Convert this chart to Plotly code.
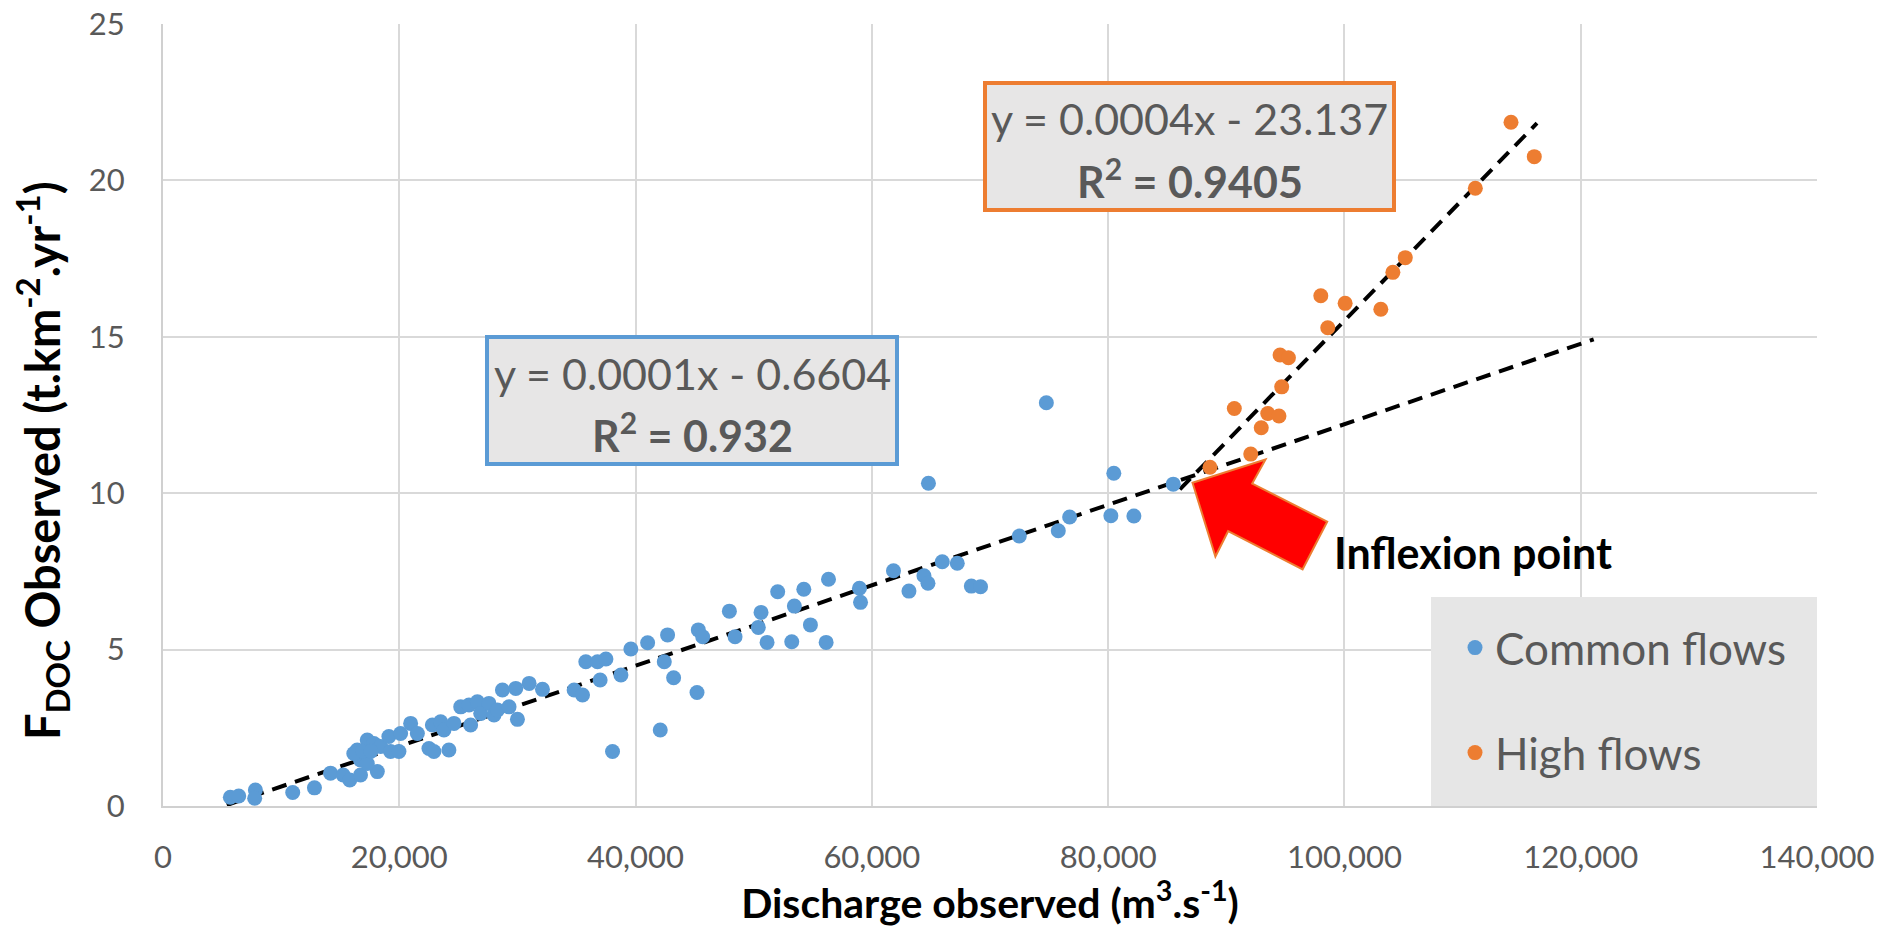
import plotly.graph_objects as go

# ---------------- data ----------------
common_x = [5700, 6410, 7820, 7760, 10980, 12820, 14180, 15250, 15810, 16720,
            16440, 17290, 18140, 17850, 18420, 19120, 19260, 19970, 16720, 17290,
            16150, 16900, 17600, 20110, 20960, 21530, 22510, 22930, 24200, 22800,
            23500, 23780, 24630, 25200, 25900, 26610, 26040, 26890, 27590, 28020,
            28310, 28730, 29290, 29860, 30000, 30990, 32120, 34800, 35510, 35790,
            36780, 37490, 37000, 38050, 38760, 39600, 41020, 42710, 42430, 43220,
            45200, 42090, 45310, 45680, 47940, 48420, 50620, 50390, 51130, 52030,
            53220, 53440, 54240, 54800, 56330, 56130, 58950, 59040, 61830, 63140,
            64410, 64750, 65960, 67230, 68420, 69200, 64790, 72480, 75780, 76740,
            74770, 80480, 80230, 82180, 85510]
common_y = [0.28, 0.32, 0.51, 0.25, 0.43, 0.58, 1.05, 0.99, 0.83, 0.99,
            1.79, 2.11, 1.10, 2.00, 1.90, 2.22, 1.74, 1.74, 1.47, 1.36,
            1.68, 1.75, 1.75, 2.32, 2.64, 2.32, 1.84, 1.74, 1.79, 2.59,
            2.69, 2.43, 2.64, 3.17, 3.23, 3.33, 2.59, 2.96, 3.28, 2.91,
            3.07, 3.71, 3.17, 3.76, 2.77, 3.92, 3.73, 3.71, 3.55, 4.61,
            4.61, 4.70, 4.03, 1.74, 4.19, 5.02, 5.22, 5.47, 4.61, 4.10,
            3.63, 2.43, 5.63, 5.41, 6.23, 5.41, 6.19, 5.71, 5.23, 6.85,
            5.25, 6.39, 6.93, 5.79, 7.25, 5.23, 6.96, 6.51, 7.52, 6.87,
            7.36, 7.12, 7.81, 7.76, 7.03, 7.01, 10.32, 8.63, 8.80, 9.24,
            12.89, 10.64, 9.28, 9.27, 10.29]

high_x = [88620, 92070, 90680, 92960, 93510, 94460, 94690, 94550, 95260, 98590,
          98000, 100060, 103080, 104100, 105150, 111080, 114100, 116070]
high_y = [10.83, 11.25, 12.71, 12.09, 12.55, 12.47, 13.40, 14.42, 14.33, 15.29,
          16.31, 16.07, 15.88, 17.06, 17.53, 19.75, 21.86, 20.76]

# trend line end points (as drawn)
common_trend_x = [5400, 121100]
common_trend_y = [0.03, 14.92]
high_trend_x = [86070, 116300]
high_trend_y = [10.12, 21.83]

x_ticks = [0, 20000, 40000, 60000, 80000, 100000, 120000, 140000]
y_ticks = [0, 5, 10, 15, 20, 25]

common_eq = "y = 0.0001x - 0.6604"
common_r2 = "R<sup>2</sup> = 0.932"
high_eq = "y = 0.0004x - 23.137"
high_r2 = "R<sup>2</sup> = 0.9405"

x_title = "<b>Discharge observed (m<sup>3</sup>.s<sup>-1</sup>)</b>"
y_title = "<b>F<sub>DOC</sub> Observed (t.km<sup>-2</sup>.yr<sup>-1</sup>)</b>"

# ---------------- layout helpers ----------------
W, H = 1884, 927
L, R, T, B = 163, 67, 24, 121
XMAX, YMAX = 140000, 25
PW, PH = W - L - R, H - T - B


def dx(px):
    return (px - L) / PW * XMAX


def dy(py):
    return (H - B - py) / PH * YMAX


FONT = "Lato"
GREY_TXT = "#595959"
BLUE = "#5B9BD5"
ORANGE = "#ED7D31"
BOXFILL = "#E7E6E6"

fig = go.Figure()

fig.add_trace(go.Scatter(x=common_trend_x, y=common_trend_y, mode="lines",
                         line=dict(color="black", width=4, dash="15px,9px"),
                         showlegend=False, hoverinfo="skip"))
fig.add_trace(go.Scatter(x=high_trend_x, y=high_trend_y, mode="lines",
                         line=dict(color="black", width=4, dash="15px,9px"),
                         showlegend=False, hoverinfo="skip"))
fig.add_trace(go.Scatter(x=common_x, y=common_y, mode="markers", name="Common flows",
                         marker=dict(color=BLUE, size=15, line=dict(width=0)),
                         legend="legend"))
fig.add_trace(go.Scatter(x=high_x, y=high_y, mode="markers", name="High flows",
                         marker=dict(color=ORANGE, size=15, line=dict(width=0)),
                         legend="legend2"))

shapes = []
# legend background box
shapes.append(dict(type="rect", xref="x", yref="y", x0=dx(1431), x1=XMAX, y0=0, y1=dy(597),
                   fillcolor="#E6E6E6", line=dict(width=0), layer="above"))
# equation boxes
shapes.append(dict(type="rect", xref="x", yref="y", x0=dx(487), x1=dx(897), y0=dy(464), y1=dy(337),
                   fillcolor=BOXFILL, line=dict(color=BLUE, width=4), layer="above"))
shapes.append(dict(type="rect", xref="x", yref="y", x0=dx(985), x1=dx(1394), y0=dy(210), y1=dy(83),
                   fillcolor=BOXFILL, line=dict(color=ORANGE, width=4), layer="above"))
# red block arrow
arrow_px = [(1192.5, 482.7), (1265.5, 459.5), (1252.2, 483.6), (1327.2, 521.7),
            (1302.6, 569.3), (1228.1, 531.2), (1215.4, 556.5)]
path = "M " + " L ".join(f"{dx(a):.1f},{dy(b):.4f}" for a, b in arrow_px) + " Z"
shapes.append(dict(type="path", xref="x", yref="y", path=path, fillcolor="#FF0000",
                   line=dict(color=ORANGE, width=2), layer="above"))

annotations = [
    dict(x=dx(692), y=dy(373), text=common_eq, font=dict(size=43, color=GREY_TXT, family=FONT)),
    dict(x=dx(692), y=dy(432), text="<b>" + common_r2 + "</b>", font=dict(size=43, color=GREY_TXT, family=FONT)),
    dict(x=dx(1189.5), y=dy(118), text=high_eq, font=dict(size=43, color=GREY_TXT, family=FONT)),
    dict(x=dx(1189.5), y=dy(178), text="<b>" + high_r2 + "</b>", font=dict(size=43, color=GREY_TXT, family=FONT)),
    dict(x=dx(1332), y=dy(552), text="<b>Inflexion point</b>", xanchor="left",
         font=dict(size=43, color="black", family=FONT)),
]
for a in annotations:
    a.update(xref="x", yref="y", showarrow=False)
    a.setdefault("xanchor", "center")
    a["yanchor"] = "middle"

# y-axis title placed as a rotated label, slightly below the plot centre like the reference
annotations.append(dict(xref="paper", yref="paper", x=(42 - L) / PW, y=(806 - 461) / PH,
                        text=y_title, textangle=-90, showarrow=False,
                        xanchor="center", yanchor="middle",
                        font=dict(size=47, color="black", family=FONT)))

fig.update_layout(
    width=W, height=H,
    margin=dict(l=L, r=R, t=T, b=B, autoexpand=False),
    paper_bgcolor="white", plot_bgcolor="white",
    font=dict(family=FONT, color=GREY_TXT),
    shapes=shapes, annotations=annotations,
    legend=dict(x=(1455 - L) / PW, y=(806 - 648) / PH, xanchor="left", yanchor="middle",
                bgcolor="rgba(0,0,0,0)", font=dict(size=44, color=GREY_TXT, family=FONT)),
    legend2=dict(x=(1455 - L) / PW, y=(806 - 753) / PH, xanchor="left", yanchor="middle",
                 bgcolor="rgba(0,0,0,0)", font=dict(size=44, color=GREY_TXT, family=FONT)),
    xaxis=dict(range=[0, XMAX], tickvals=x_ticks, tickformat=",d",
               showgrid=True, gridcolor="#D9D9D9", gridwidth=2,
               zeroline=False, showline=True, linecolor="#D0D0D0", linewidth=2,
               ticks="", tickfont=dict(size=31, color=GREY_TXT, family=FONT),
               ticklabelstandoff=23,
               title=dict(text=x_title,
                          font=dict(size=41, color="black", family=FONT), standoff=16)),
    yaxis=dict(range=[0, YMAX], tickvals=y_ticks,
               showgrid=True, gridcolor="#D9D9D9", gridwidth=2,
               zeroline=False, showline=True, linecolor="#D0D0D0", linewidth=2,
               ticks="", tickfont=dict(size=31, color=GREY_TXT, family=FONT),
               ticklabelstandoff=30),
)

fig.write_html("out.html")
